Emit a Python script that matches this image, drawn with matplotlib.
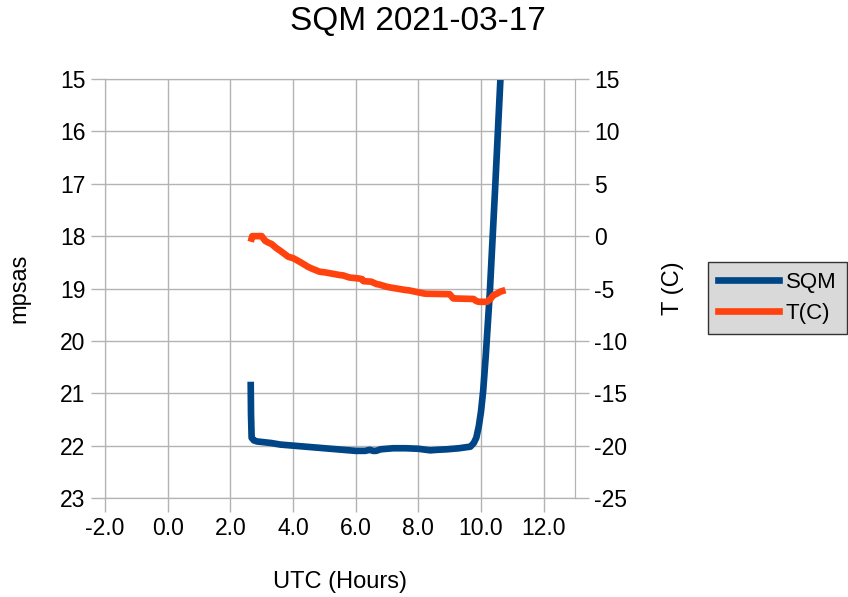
import numpy as np
import matplotlib.pyplot as plt
from matplotlib.lines import Line2D

plt.rcParams['font.family'] = ['Liberation Sans', 'DejaVu Sans']
plt.rcParams['axes.unicode_minus'] = False

# SQM readings (mpsas) against UTC hours
sqm_hours = [2.65, 2.66, 2.68, 2.75, 2.85, 3.0, 3.3, 3.6, 4.0, 4.4, 4.8, 5.2, 5.6,
             6.0, 6.3, 6.45, 6.56, 6.65, 6.8, 7.2, 7.6, 8.0, 8.38, 8.6, 8.92,
             9.3, 9.66, 9.77, 9.85, 9.93, 10.0, 10.07, 10.15, 10.28, 10.45,
             10.62, 10.8]
sqm_vals = [20.78, 21.4, 21.85, 21.9, 21.92, 21.93, 21.95, 21.98, 22.0, 22.02,
            22.04, 22.06, 22.08, 22.1, 22.1, 22.08, 22.1, 22.1, 22.07, 22.05,
            22.05, 22.06, 22.09, 22.08, 22.07, 22.05, 22.02, 21.95, 21.85,
            21.63, 21.35, 20.95, 20.3, 19.09, 17.1, 15.0, 12.8]

# Temperature (C)
t_hours = [2.65, 2.7, 2.8, 3.0, 3.11, 3.2, 3.32, 3.45, 3.64, 3.75, 3.85, 4.0,
           4.12, 4.3, 4.48, 4.6, 4.85, 5.0, 5.5, 5.6, 5.8, 6.09, 6.2, 6.25, 6.5,
           6.67, 6.75, 7.0, 7.1, 7.6, 7.7, 8.17, 8.25, 9.0, 9.1, 9.12, 9.76,
           9.85, 9.93, 10.19, 10.3, 10.4, 10.5, 10.62, 10.78]
t_vals = [-0.54, 0.0, 0.0, 0.0, -0.45, -0.6, -0.76, -1.1, -1.5, -1.75, -1.97,
          -2.1, -2.29, -2.6, -2.93, -3.1, -3.4, -3.45, -3.72, -3.75, -3.95,
          -4.04, -4.1, -4.3, -4.35, -4.58, -4.62, -4.84, -4.9, -5.15, -5.18,
          -5.47, -5.5, -5.54, -5.9, -5.95, -6.0, -6.2, -6.27, -6.27, -6.0,
          -5.63, -5.5, -5.3, -5.15]

x_ticks = [-2, 0, 2, 4, 6, 8, 10, 12]
sqm_ticks = [15, 16, 17, 18, 19, 20, 21, 22, 23]
t_ticks = [15, 10, 5, 0, -5, -10, -15, -20, -25]

blue = '#004586'
orange = '#ff420e'
grid = '#b3b3b3'

fig = plt.figure(figsize=(8.48, 5.97), dpi=100)
ax = fig.add_axes([105 / 848, 99 / 597, 470 / 848, 419 / 597])
ax2 = ax.twinx()

ax.plot(sqm_hours, sqm_vals, color=blue, lw=4.8, solid_capstyle='butt', zorder=3)
ax2.plot(t_hours, t_vals, color=orange, lw=4.8, solid_capstyle='butt', zorder=3)

ax.set_xlim(-2, 13)
ax.set_ylim(23, 15)
ax2.set_ylim(-25, 15)
ax.set_xticks(x_ticks)
ax.set_xticklabels([f'{v:.1f}' for v in x_ticks])
ax.set_yticks(sqm_ticks)
ax2.set_yticks(t_ticks)

ax.grid(True, color=grid, lw=1)
for a in (ax, ax2):
    for s in a.spines.values():
        s.set_color(grid)
    a.tick_params(colors=grid, labelcolor='black', labelsize=16.5,
                  length=10, width=1, direction='out', pad=4)
ax2.set_zorder(ax.get_zorder() + 1)
ax2.patch.set_visible(False)

ax.set_ylabel('mpsas', fontsize=17, labelpad=21)
ax2.set_ylabel('T (C)', fontsize=17, labelpad=25)
ax.set_xlabel('UTC (Hours)', fontsize=17, labelpad=22)
fig.text(418 / 848, 1 - 22 / 597, 'SQM 2021-03-17', ha='center', va='center',
         fontsize=24)

handles = [Line2D([0], [0], color=blue, lw=4.8),
           Line2D([0], [0], color=orange, lw=4.8)]
leg = fig.legend(handles, ['SQM', 'T(C)'], loc='upper left',
                 bbox_to_anchor=(708 / 848, 1 - 262 / 597), fontsize=16,
                 frameon=True, fancybox=False, handlelength=2.75,
                 handletextpad=0.3, borderpad=0.45, labelspacing=0.45,
                 borderaxespad=0)
leg.get_frame().set_facecolor('#d9d9d9')
leg.get_frame().set_edgecolor('#333333')
leg.get_frame().set_linewidth(1)
leg.get_frame().set_alpha(1)

fig.savefig('out.png', dpi=100)
